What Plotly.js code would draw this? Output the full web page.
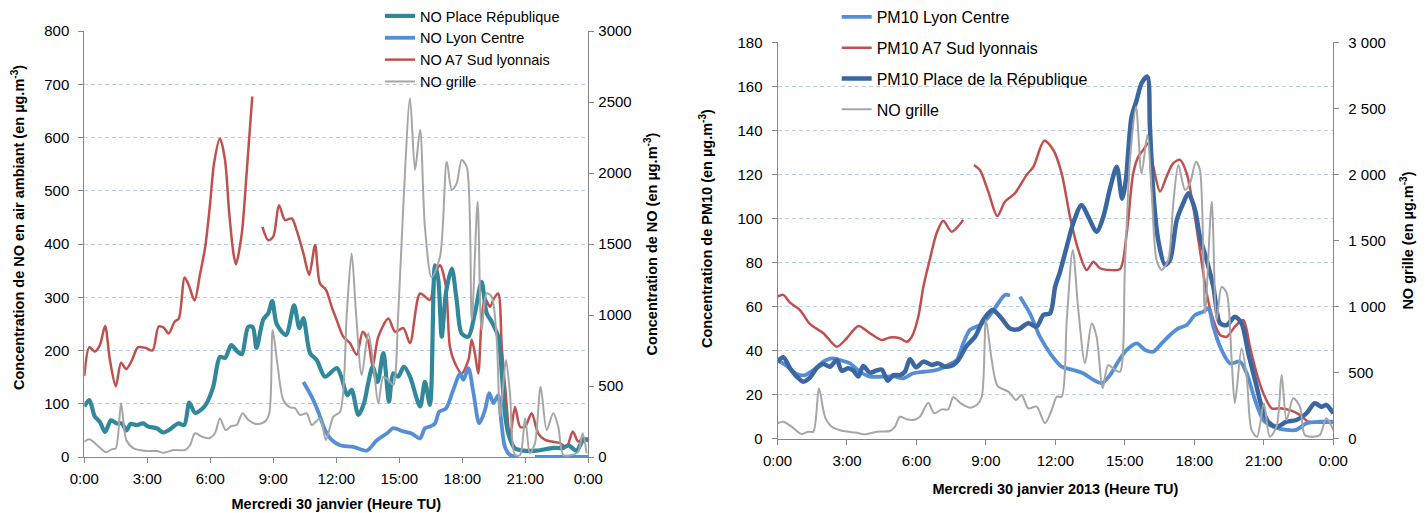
<!DOCTYPE html>
<html>
<head>
<meta charset="utf-8">
<script src="https://cdn.plot.ly/plotly-3.0.1.min.js"></script>
<style>html,body{margin:0;padding:0;background:#fff;}#chart{width:1428px;height:513px;}</style>
</head>
<body>
<div id="chart"></div>
<script>
// ---------- tick labels ----------
const hourTicks = [0, 3, 6, 9, 12, 15, 18, 21, 24];
const hourLabels = ["0:00", "3:00", "6:00", "9:00", "12:00", "15:00", "18:00", "21:00", "0:00"];

// ---------- LEFT CHART : NO (hours since 0:00) ----------
const tNoRep = [0,0.24,0.5,0.74,0.99,1.27,1.54,1.79,2.0,2.2,2.5,2.8,3.05,3.45,3.76,4.08,4.47,4.76,5.0,5.27,5.6,5.83,6.14,6.46,6.7,7.0,7.29,7.5,7.8,8.02,8.2,8.52,8.76,8.95,9.16,9.6,9.99,10.24,10.43,10.75,11.07,11.46,12.02,12.26,12.52,12.73,13.05,13.32,13.52,13.73,13.97,14.24,14.51,14.71,14.95,15.22,15.51,15.99,16.22,16.46,16.7,16.86,17.02,17.22,17.5,17.73,17.97,18.29,18.6,18.92,19.16,19.4,19.71,19.88,20.03,20.19,20.51,20.9,21.54,22.33,22.81,23.05,23.44,23.76,24];
const noRep = [95,107,76,66,47,69,63,63,50,62,60,63,57,54,46,52,63,60,102,83,90,101,132,188,186,210,198,193,244,244,205,258,270,293,250,229,285,242,261,195,182,151,167,148,116,126,79,101,139,170,141,195,104,157,151,170,151,95,141,98,360,332,226,308,354,295,232,226,270,329,270,254,226,157,82,44,16,12,12,17,17,22,12,32,33];

const tNoLC = [10.43,10.83,11.14,11.46,11.78,12.18,12.81,13.45,13.92,14.4,14.71,15.19,15.59,15.99,16.22,16.5,16.7,16.9,17.22,17.57,17.89,18.05,18.29,18.52,18.81,19.08,19.29,19.48,19.71,19.83,20.03,20.27,20.67,20.9,21.46,22.5,24];
const noLC = [141,113,85,51,32,22,19,12,31,44,54,48,44,35,54,58,63,85,91,126,157,145,167,123,63,88,120,101,116,76,19,4,0,null,0,0,0];

const tNoA7 = [0,0.24,0.5,0.74,0.99,1.22,1.5,1.75,2.0,2.27,2.55,2.9,3.25,3.54,3.78,4.02,4.3,4.5,4.78,5.0,5.25,5.52,5.76,5.99,6.18,6.46,6.7,6.9,7.1,7.22,7.5,7.73,8.0,8.24,8.48,8.76,9.0,9.27,9.56,9.88,10.11,10.43,10.71,10.99,11.22,11.51,11.78,12.02,12.33,12.65,12.97,13.26,13.52,13.73,14.0,14.48,14.8,15.19,15.51,15.99,16.46,16.7,16.94,17.22,17.41,17.65,17.97,18.29,18.45,18.6,18.76,18.92,19.08,19.32,19.51,19.71,19.88,20.08,20.27,20.51,20.75,20.99,21.3,21.62,21.94,22.26,22.65,22.97,23.26,23.52,23.76,24];
const noA7 = [152,206,198,210,246,182,133,177,165,182,206,205,200,245,243,232,254,260,337,320,294,345,395,476,552,598,558,458,383,362,420,533,677,null,432,407,414,473,445,448,426,383,342,398,326,314,282,257,226,214,192,235,217,170,226,260,235,242,214,307,295,345,360,320,207,176,157,182,220,195,157,257,298,282,298,307,207,113,38,94,57,57,82,44,32,29,26,19,48,29,35,29];

const tNoGrilleL = [0,0.24,0.6,1.04,1.3,1.5,1.75,2.0,2.35,2.98,3.45,3.78,4.25,4.8,5.04,5.27,5.6,5.95,6.22,6.46,6.73,7.0,7.25,7.54,7.81,8.21,8.6,8.81,8.97,9.2,9.48,9.8,10.03,10.27,10.59,10.83,11.22,11.51,11.86,12.18,12.5,12.73,12.94,13.21,13.52,13.76,14.0,14.24,14.48,14.71,14.95,15.19,15.51,15.75,15.99,16.22,16.54,16.94,17.26,17.5,17.73,17.97,18.21,18.45,18.73,18.92,19.16,19.4,19.64,19.8,20.08,20.27,20.51,20.75,20.99,21.22,21.46,21.73,22.02,22.33,22.57,22.81,23.21,23.52,23.73,23.92];
const noGrilleL = [108,125,85,33,54,61,378,120,61,42,42,30,49,49,85,167,143,132,167,272,190,218,225,308,261,232,249,308,894,650,400,350,345,296,308,225,272,120,284,319,1012,1434,1012,577,871,660,378,565,542,507,1012,1763,2526,2021,2305,1620,1265,1411,2080,1880,1927,2091,2044,965,1798,894,1153,1129,824,284,683,448,14,14,272,26,96,495,190,308,213,14,14,37,167,26];

// ---------- RIGHT CHART : PM10 ----------
const tPmLC = [0,0.4,0.83,1.19,1.55,1.98,2.34,2.7,3.13,3.56,3.99,4.57,5.07,5.43,5.86,6.3,6.87,7.37,7.74,8.02,8.31,8.74,9.18,9.53,9.82,10.04,10.25,10.47,10.9,11.33,11.77,12.27,12.77,13.2,13.64,14.0,14.36,14.71,15.08,15.51,15.87,16.23,16.59,16.95,17.31,17.67,18.03,18.39,18.6,18.82,19.11,19.54,19.97,20.26,20.62,20.98,21.41,21.98,22.41,22.84,23.42,24];
const pmLC = [35.7,33,29.4,28.9,31.2,35,36.5,35.7,34.2,30.4,28.2,28.2,28.2,27.4,29.7,30.4,31.2,33.5,35.7,43.3,49.4,51.6,56.2,61.5,65.3,65,null,64.5,56.9,46.3,38.8,32.7,31.2,29.7,26.7,25.2,28.9,35,40.3,43.3,40.3,39.5,43.3,47.1,50.1,51.6,56.2,57.7,59.2,50.9,41.8,34.2,35,29.7,17.6,8.5,5.4,4,4,7,7.7,7.7];

const tPmA7 = [0,0.25,0.54,0.97,1.4,1.98,2.56,2.99,3.49,3.99,4.5,4.86,5.29,5.58,5.8,6.08,6.3,6.58,6.87,7.16,7.52,8.02,8.25,8.48,8.74,9.1,9.49,9.82,10.25,10.76,11.05,11.52,11.91,12.27,12.63,12.99,13.35,13.64,13.92,14.36,14.79,15.08,15.36,15.58,15.79,16.01,16.23,16.52,16.8,17.09,17.38,17.67,17.95,18.24,18.53,18.82,19.11,19.4,19.75,20.11,20.4,20.69,20.98,21.34,21.7,22.13,22.56,22.92,23.42,24];
const pmA7 = [64.5,65.3,61.8,58.4,52.1,47.9,41.8,45.6,51.2,47.9,44.8,46,45.6,44,46.3,55.4,69,81.5,93.3,99,94,99.3,null,124.3,122,112.2,101.1,107.6,111.4,119.8,123.5,135.3,131.1,120.5,100.8,85.7,76.6,80.4,77.4,76.6,77,93.3,120.5,128.1,131.1,134.2,123.5,112.2,119,125.1,126.6,120.5,105.4,85.7,66,53.9,47.1,46.3,50.9,53.9,41.8,29.7,20.6,13.8,13.8,13,10.8,7.7,7.3,7.3];

const tPmRep = [0,0.25,0.54,0.83,1.11,1.4,1.69,1.98,2.27,2.56,2.77,3.06,3.27,3.49,3.7,3.99,4.28,4.5,4.76,5.0,5.29,5.5,5.72,5.98,6.3,6.66,6.94,7.23,7.59,7.81,8.17,8.53,8.89,9.28,9.65,10.04,10.4,10.83,11.19,11.48,11.77,11.99,12.2,12.49,12.77,13.13,13.42,13.78,14.07,14.36,14.65,14.88,15.05,15.15,15.29,15.51,15.72,15.97,16.08,16.23,16.44,16.73,16.95,17.24,17.52,17.74,18.03,18.24,18.53,18.82,19.11,19.4,19.75,20.04,20.33,20.62,20.91,21.19,21.55,21.98,22.41,22.84,23.2,23.49,23.7,24];
const pmRep = [35,37,32,28.2,25.9,27.7,32,33.9,32.7,35.7,30.9,32,31,28.2,33,30,31,31.4,26.3,28.9,28.9,30.4,36.1,32.4,35,33.5,34.2,32.7,33.5,35.7,42.2,46.3,54,58.4,55,50,49.7,52.4,50.9,56.2,56.9,69,75.8,87.2,97.8,106.1,100.8,94,100.8,113.7,123.5,109,118,131.1,146.2,153.8,161.4,164.4,141.7,111.4,90.2,78.9,81.2,99.3,106.9,111.4,103.9,91.7,81.2,69,52.4,51.6,55.4,52.4,38.8,26.7,14.5,7.7,5.4,7.7,8.5,11.5,16.1,14.5,15.3,11.5];

const tNoGrilleR = [0,0.25,0.61,1.04,1.33,1.55,1.79,2.05,2.34,2.84,3.42,3.78,4.28,4.86,5.07,5.29,5.58,5.86,6.15,6.51,6.77,7.09,7.37,7.59,7.95,8.31,8.6,8.82,9.0,9.25,9.5,9.97,10.3,10.54,10.83,11.19,11.55,11.84,12.06,12.27,12.49,12.75,12.99,13.28,13.57,13.78,14.04,14.28,14.57,14.79,15.0,15.22,15.48,15.72,15.97,16.16,16.37,16.59,16.87,17.09,17.31,17.6,17.81,18.07,18.24,18.46,18.75,18.96,19.18,19.4,19.61,19.75,20.04,20.26,20.47,20.71,21.0,21.26,21.55,21.77,21.98,22.27,22.56,22.77,23.13,23.42,23.7,24];
const noGrilleR = [117,129,91,36,53,53,381,166,91,58,45,33,53,58,91,166,147,142,166,272,192,222,222,313,263,235,255,318,898,596,400,356,293,331,230,242,117,217,318,318,898,1428,974,571,873,772,381,558,520,507,1290,2109,2513,2008,2298,1857,1352,1277,1352,1782,2071,1882,1933,2096,2033,949,1794,898,1150,1100,596,268,684,469,66,15,268,15,91,482,142,306,242,28,15,28,154,66];

// ---------- styling ----------
const FONT = "Liberation Sans, Arial, sans-serif";
const GRID = "#B7CBEE";
const AXLINE = "#868686";
const C_TEAL = "#31889B", C_BLUE = "#558ED5", C_RED = "#C0504D", C_GRAY = "#A6A6A6", C_DARK = "#3B67A0";

function line(x, y, name, color, width, xa, ya, legend, group, rank) {
  return {type: "scatter", mode: "lines", x: x, y: y, name: name, xaxis: xa, yaxis: ya,
          line: {color: color, width: width, shape: "spline", smoothing: 0.8},
          connectgaps: false, legend: legend, legendgroup: group, legendrank: rank,
          hoverinfo: "x+y+name"};
}

const traces = [
  line(tNoGrilleL, noGrilleL, "NO grille", C_GRAY, 2, "x", "y2", "legend", "a4", 4),
  line(tNoA7, noA7, "NO A7 Sud lyonnais", C_RED, 2.5, "x", "y", "legend", "a3", 3),
  line(tNoLC, noLC, "NO Lyon Centre", C_BLUE, 3.8, "x", "y", "legend", "a2", 2),
  line(tNoRep, noRep, "NO Place République", C_TEAL, 4.2, "x", "y", "legend", "a1", 1),
  line(tNoGrilleR, noGrilleR, "NO grille", C_GRAY, 2, "x2", "y4", "legend2", "b4", 4),
  line(tPmA7, pmA7, "PM10 A7 Sud lyonnais", C_RED, 2.5, "x2", "y3", "legend2", "b2", 2),
  line(tPmLC, pmLC, "PM10 Lyon Centre", C_BLUE, 3.8, "x2", "y3", "legend2", "b1", 1),
  line(tPmRep, pmRep, "PM10 Place de la République", C_DARK, 4.5, "x2", "y3", "legend2", "b3", 3)
];

const tickFont = {family: FONT, size: 15, color: "#000"};
const titleFont = {family: FONT, size: 14.5, color: "#000"};

function xAxis(domain, anchor, title, standoff) {
  return {domain: domain, anchor: anchor, range: [0, 24], tickvals: hourTicks, ticktext: hourLabels,
          showgrid: false, zeroline: false, showline: true, linecolor: AXLINE, linewidth: 1,
          ticks: "outside", ticklen: 5, tickcolor: AXLINE, tickfont: tickFont, automargin: false,
          ticklabelstandoff: 3,
          title: {text: title, font: titleFont, standoff: standoff}};
}
function yLeft(domain, anchor, range, dtick, standoff) {
  return {domain: domain, anchor: anchor, range: range, dtick: dtick, tick0: 0,
          showgrid: true, gridcolor: GRID, griddash: "4px,3px", gridwidth: 1, zeroline: false,
          showline: true, linecolor: AXLINE, linewidth: 1, ticks: "outside", ticklen: 5, tickcolor: AXLINE,
          tickfont: tickFont, automargin: false, ticklabelstandoff: standoff};
}
function yRight(overlay, anchor, title, titleStandoff, sep, labelStandoff) {
  return {overlaying: overlay, anchor: anchor, side: "right", range: [0, 3000], dtick: 500, tick0: 0,
          showgrid: false, zeroline: false, showline: true, linecolor: AXLINE, linewidth: 1,
          ticks: "outside", ticklen: 5, tickcolor: AXLINE, tickfont: tickFont, automargin: false,
          separatethousands: sep, ticklabelstandoff: labelStandoff,
          title: {text: title, font: titleFont, standoff: titleStandoff}};
}

const W = 1428, H = 513;
const layout = {
  width: W, height: H,
  margin: {l: 0, r: 0, t: 0, b: 0},
  paper_bgcolor: "#fff", plot_bgcolor: "#fff",
  separators: ", ",
  showlegend: true,
  font: {family: FONT, color: "#000"},
  xaxis: xAxis([84.3 / W, 588.3 / W], "y", "<b>Mercredi 30 janvier (Heure TU)</b>", 12),
  yaxis: yLeft([1 - 457 / H, 1 - 31 / H], "x", [0, 800], 100, 6),
  yaxis2: yRight("y", "x", "<b>Concentration de NO (en µg.m<sup>-3</sup>)</b>", 16, false, 1),
  xaxis2: xAxis([777.5 / W, 1333.3 / W], "y3", "<b>Mercredi 30 janvier 2013 (Heure TU)</b>", 16),
  yaxis3: yLeft([1 - 438.7 / H, 1 - 42.3 / H], "x2", [0, 180], 20, 6),
  yaxis4: yRight("y3", "x2", "<b>NO grille (en µg.m<sup>-3</sup>)</b>", 18, true, 6),
  annotations: [
    {text: "<b>Concentration de NO en air ambiant (en µg.m<sup>-3</sup>)</b>", textangle: -90,
     xref: "paper", yref: "paper", x: 18 / W, y: 1 - 228 / H, xanchor: "center", yanchor: "middle",
     showarrow: false, font: titleFont},
    {text: "<b>Concentration de PM10 (en µg.m<sup>-3</sup>)</b>", textangle: -90,
     xref: "paper", yref: "paper", x: 706 / W, y: 1 - 229 / H, xanchor: "center", yanchor: "middle",
     showarrow: false, font: titleFont}
  ],
  legend: {x: 380 / W, y: 1, xanchor: "left", yanchor: "top", bgcolor: "rgba(0,0,0,0)",
           borderwidth: 0, font: {family: FONT, size: 14.5, color: "#000"},
           traceorder: "normal", tracegroupgap: 0},
  legend2: {x: 836.7 / W, y: 1, xanchor: "left", yanchor: "top", bgcolor: "rgba(0,0,0,0)",
            borderwidth: 0, font: {family: FONT, size: 16, color: "#000"},
            traceorder: "grouped", tracegroupgap: 7}
};

Plotly.newPlot("chart", traces, layout, {displayModeBar: false, staticPlot: true});
</script>
</body>
</html>
